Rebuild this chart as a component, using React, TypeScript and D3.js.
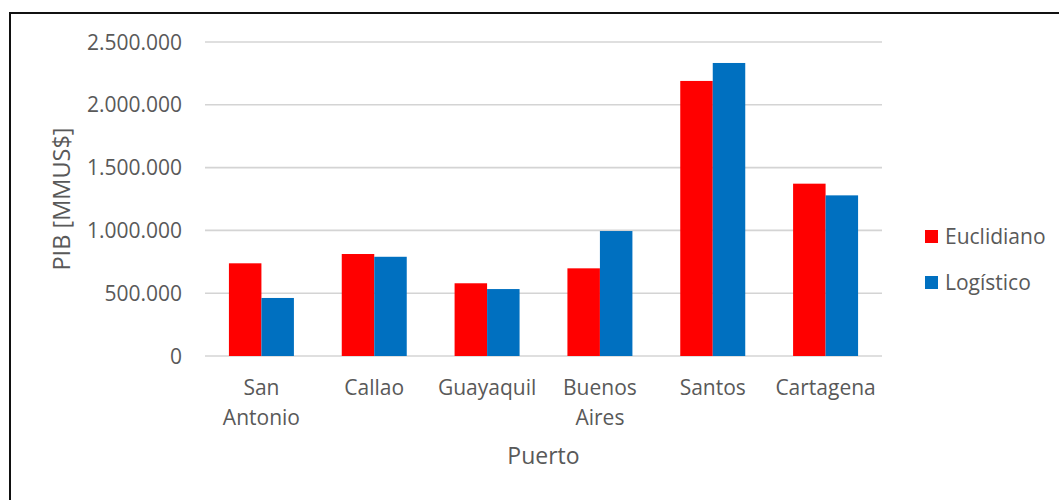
import React from "react";
import * as d3 from "d3";

const categories = ["San Antonio", "Callao", "Guayaquil", "Buenos Aires", "Santos", "Cartagena"];
const euclidiano = [738000, 812000, 579000, 698000, 2190000, 1372000];
const logistico = [462000, 790000, 533000, 995000, 2333000, 1279000];
const seriesNames = ["Euclidiano", "Logístico"];
const seriesColors = ["#FF0000", "#0070C0"];
const yTicks = [0, 500000, 1000000, 1500000, 2000000, 2500000];

const W = 1059;
const H = 500;
const plot = { left: 205, right: 882, top: 42, bottom: 356 };
const FONT = "'Open Sans', 'Noto Sans', sans-serif";
const TEXT = "#595959";

const fmt = (v: number) =>
  v === 0 ? "0" : d3.format(",")(v).replace(/,/g, ".");

export default function App() {
  const x = d3
    .scaleBand<string>()
    .domain(categories)
    .range([plot.left, plot.right])
    .paddingInner(0.424)
    .paddingOuter(0.212);
  const xs = d3
    .scaleBand<string>()
    .domain(seriesNames)
    .range([0, x.bandwidth()]);
  const y = d3.scaleLinear().domain([0, 2500000]).range([plot.bottom, plot.top]);

  const series = [euclidiano, logistico];

  return (
    <div style={{ position: "fixed", left: 0, top: 0 }}>
      <svg width={W} height={H} style={{ display: "block", background: "#fff" }}>
        {/* outer frame */}
        <rect x={10} y={13} width={W + 20} height={H + 20} fill="#fff" stroke="#111" strokeWidth={2} />

        {/* gridlines */}
        {yTicks.map((t) => (
          <line
            key={t}
            x1={plot.left}
            x2={plot.right}
            y1={y(t)}
            y2={y(t)}
            stroke="#D4D4D4"
            strokeWidth={1.6}
          />
        ))}

        {/* bars */}
        {categories.map((c, i) =>
          series.map((vals, s) => (
            <rect
              key={c + s}
              x={(x(c) as number) + (xs(seriesNames[s]) as number)}
              y={y(vals[i])}
              width={xs.bandwidth()}
              height={y(0) - y(vals[i])}
              fill={seriesColors[s]}
            />
          ))
        )}

        {/* y tick labels */}
        {yTicks.map((t) => (
          <text
            key={"l" + t}
            x={182}
            y={y(t)}
            dy="0.36em"
            textAnchor="end"
            fontFamily={FONT}
            fontSize={21}
            fill={TEXT}
          >
            {fmt(t)}
          </text>
        ))}

        {/* category labels */}
        {categories.map((c) => {
          const words = c.split(" ");
          const cx = (x(c) as number) + x.bandwidth() / 2;
          return (
            <text
              key={"c" + c}
              x={cx}
              y={395}
              textAnchor="middle"
              fontFamily={FONT}
              fontSize={21}
              fill={TEXT}
            >
              {words.map((w, k) => (
                <tspan key={k} x={cx} dy={k === 0 ? 0 : 30}>
                  {w}
                </tspan>
              ))}
            </text>
          );
        })}

        {/* axis titles */}
        <text
          x={(plot.left + plot.right) / 2}
          y={464}
          textAnchor="middle"
          fontFamily={FONT}
          fontSize={23}
          fill={TEXT}
        >
          Puerto
        </text>
        <text
          transform={`translate(70, ${(plot.top + plot.bottom) / 2}) rotate(-90)`}
          textAnchor="middle"
          fontFamily={FONT}
          fontSize={23.5}
          fill={TEXT}
        >
          PIB [MMUS$]
        </text>

        {/* legend */}
        {seriesNames.map((n, s) => (
          <g key={n} transform={`translate(925, ${230 + s * 46})`}>
            <rect x={0} y={0} width={13} height={13} fill={seriesColors[s]} />
            <text x={20} y={6.5} dy="0.36em" fontFamily={FONT} fontSize={21} fill={TEXT}>
              {n}
            </text>
          </g>
        ))}
      </svg>
    </div>
  );
}
